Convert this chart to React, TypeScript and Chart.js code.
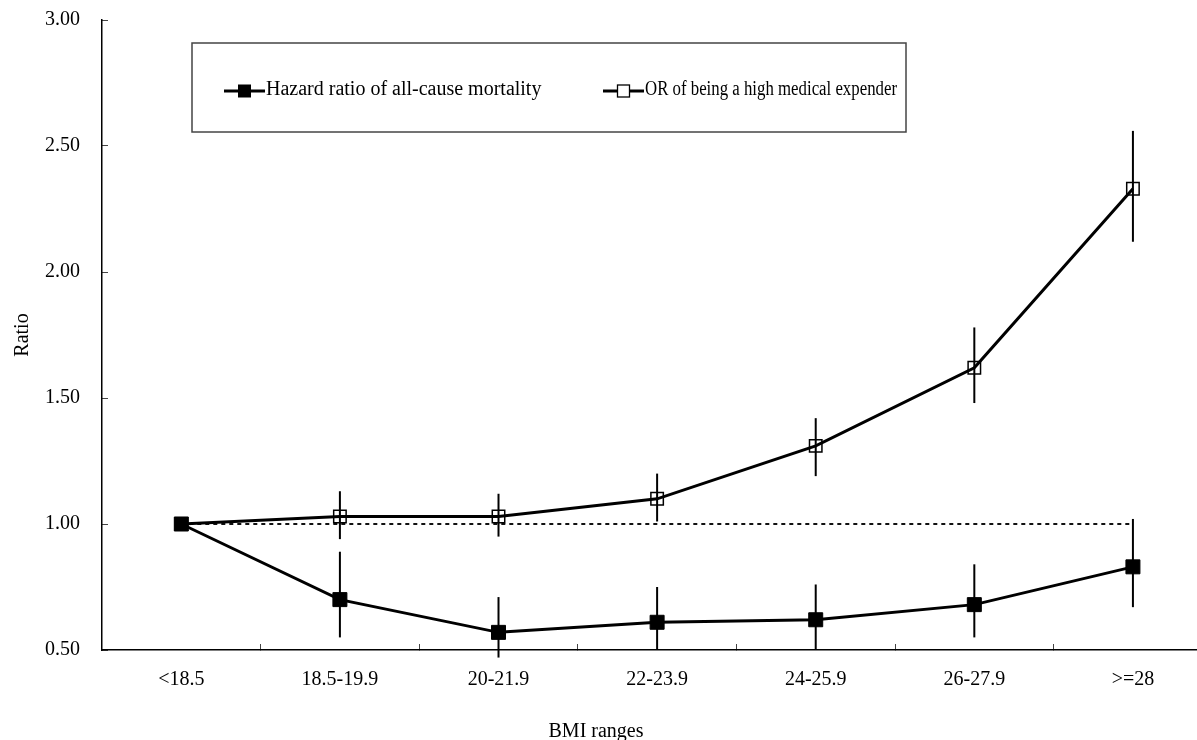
import { useEffect, useRef } from 'react';
import { Chart, registerables } from 'chart.js';

Chart.register(...registerables);

const categories = ['<18.5', '18.5-19.9', '20-21.9', '22-23.9', '24-25.9', '26-27.9', '>=28'];
const hazardRatio = [1.0, 0.70, 0.57, 0.61, 0.62, 0.68, 0.83];
const hazardLower = [null, 0.55, 0.47, 0.50, 0.50, 0.55, 0.67];
const hazardUpper = [null, 0.89, 0.71, 0.75, 0.76, 0.84, 1.02];
const oddsRatio = [1.0, 1.03, 1.03, 1.10, 1.31, 1.62, 2.33];
const oddsLower = [null, 0.94, 0.95, 1.01, 1.19, 1.48, 2.12];
const oddsUpper = [null, 1.13, 1.12, 1.20, 1.42, 1.78, 2.56];
const referenceLine = [1, 1, 1, 1, 1, 1, 1];
const yTicks = [0.5, 1.0, 1.5, 2.0, 2.5, 3.0];
const seriesLabels = ['Hazard ratio of all-cause mortality', 'OR of being a high medical expender'];
const xTitle = 'BMI ranges';
const yTitle = 'Ratio';

const FONT_FAMILY = '"Liberation Serif", "Times New Roman", serif';
const FONT = { family: FONT_FAMILY, size: 20 };

const toPoints = (vals: (number | null)[]) =>
  categories.map((_, i) => ({ x: i, y: vals[i] as number }));

const toIntervals = (lo: (number | null)[], hi: (number | null)[]) =>
  categories
    .map((_, i) => (lo[i] == null || hi[i] == null ? null : { x: i, y: [lo[i], hi[i]] }))
    .filter((d) => d !== null);

const overlayPlugin = {
  id: 'legendBoxAndTitle',
  afterDraw(chart: any) {
    const { ctx, chartArea } = chart;
    ctx.save();
    // x-axis title
    ctx.font = `20px ${FONT_FAMILY}`;
    ctx.fillStyle = '#000';
    ctx.textAlign = 'center';
    ctx.textBaseline = 'alphabetic';
    ctx.fillText(xTitle, chartArea.left + 494, chart.height - 3);

    // legend box
    const bx = chartArea.left + 90;
    const by = chartArea.top + 23;
    const bw = 714;
    const bh = 89;
    ctx.strokeStyle = '#444';
    ctx.lineWidth = 1.5;
    ctx.strokeRect(bx, by, bw, bh);

    const cy = by + 48;
    const itemX = [bx + 32, bx + 411];
    const textMax = [280, 252];
    ctx.font = `20px ${FONT_FAMILY}`;
    seriesLabels.forEach((label, i) => {
      const x = itemX[i];
      ctx.beginPath();
      ctx.moveTo(x, cy);
      ctx.lineTo(x + 41, cy);
      ctx.lineWidth = 3;
      ctx.strokeStyle = '#000';
      ctx.stroke();
      const cx = x + 20.5;
      if (i === 0) {
        ctx.fillStyle = '#000';
        ctx.fillRect(cx - 6.5, cy - 6.5, 13, 13);
      } else {
        ctx.fillStyle = '#fff';
        ctx.fillRect(cx - 6, cy - 6, 12, 12);
        ctx.lineWidth = 1.3;
        ctx.strokeRect(cx - 6, cy - 6, 12, 12);
      }
      ctx.fillStyle = '#000';
      ctx.textAlign = 'left';
      ctx.textBaseline = 'middle';
      ctx.fillText(label, x + 42, cy - 1, textMax[i]);
    });
    ctx.restore();
  },
};

export default function App() {
  const ref = useRef<HTMLCanvasElement>(null);

  useEffect(() => {
    document.body.style.margin = '0';
    const chart = new Chart(ref.current as HTMLCanvasElement, {
      type: 'line',
      data: {
        datasets: [
          {
            type: 'line',
            label: seriesLabels[0],
            data: toPoints(hazardRatio),
            borderColor: '#000',
            borderWidth: 3,
            tension: 0,
            pointStyle: 'rect',
            pointRadius: 9.9,
            pointBackgroundColor: '#000',
            pointBorderColor: '#000',
            pointBorderWidth: 1,
            order: 0,
          },
          {
            type: 'line',
            label: seriesLabels[1],
            data: toPoints(oddsRatio),
            borderColor: '#000',
            borderWidth: 3,
            tension: 0,
            pointStyle: 'rect',
            pointRadius: 8.8,
            pointBackgroundColor: 'rgba(0,0,0,0)',
            pointBorderColor: '#000',
            pointBorderWidth: 1.5,
            order: 1,
          },
          {
            type: 'line',
            label: 'reference',
            data: toPoints(referenceLine),
            borderColor: '#111',
            borderWidth: 2,
            borderDash: [4, 4],
            pointRadius: 0,
            tension: 0,
            order: 3,
          },
          {
            type: 'bar',
            label: 'hazard CI',
            data: toIntervals(hazardLower, hazardUpper) as any,
            backgroundColor: '#000',
            grouped: false,
            maxBarThickness: 2,
            clip: false as any,
            order: 2,
          },
          {
            type: 'bar',
            label: 'odds CI',
            data: toIntervals(oddsLower, oddsUpper) as any,
            backgroundColor: '#000',
            grouped: false,
            maxBarThickness: 2,
            clip: false as any,
            order: 2,
          },
        ] as any,
      },
      options: {
        responsive: false,
        animation: false,
        events: [],
        layout: { autoPadding: false, padding: { top: 20, right: 0, left: 0, bottom: 0 } },
        plugins: {
          legend: { display: false },
          tooltip: { enabled: false },
          title: { display: false },
        },
        scales: {
          x: {
            type: 'linear',
            offset: false,
            min: -0.5,
            max: 6.404,
            afterBuildTicks: (s: any) => {
              s.ticks = categories.map((_, i) => ({ value: i }));
            },
            afterFit: (s: any) => {
              s.height = 90;
              s.paddingLeft = 0;
              s.paddingRight = 0;
              s.paddingTop = 0;
              s.paddingBottom = 0;
            },
            ticks: {
              callback: (v: any) => categories[Number(v)] ?? '',
              font: FONT,
              color: '#000',
              padding: 24,
              autoSkip: false,
              maxRotation: 0,
            },
            grid: {
              offset: true,
              drawOnChartArea: false,
              drawTicks: true,
              tickLength: -6,
              color: '#444',
              lineWidth: 1,
            },
            border: { color: '#000', width: 1.5 },
          },
          y: {
            type: 'linear',
            min: 0.5,
            max: 3.0,
            afterBuildTicks: (s: any) => {
              s.ticks = yTicks.map((v) => ({ value: v }));
            },
            afterFit: (s: any) => {
              s.width = 102;
              s.paddingLeft = 0;
              s.paddingRight = 0;
              s.paddingTop = 0;
              s.paddingBottom = 0;
            },
            ticks: {
              callback: (v: any) => Number(v).toFixed(2),
              font: FONT,
              color: '#000',
              padding: 28,
            },
            grid: {
              drawOnChartArea: false,
              drawTicks: true,
              tickLength: -6,
              color: '#444',
              lineWidth: 1,
            },
            border: { color: '#000', width: 1.5 },
            title: {
              display: true,
              text: yTitle,
              font: FONT,
              color: '#000',
              padding: { top: 11, bottom: 0 },
            },
          },
        },
      } as any,
      plugins: [overlayPlugin],
    });
    return () => chart.destroy();
  }, []);

  return <canvas ref={ref} width={1197} height={740} style={{ display: 'block' }} />;
}
